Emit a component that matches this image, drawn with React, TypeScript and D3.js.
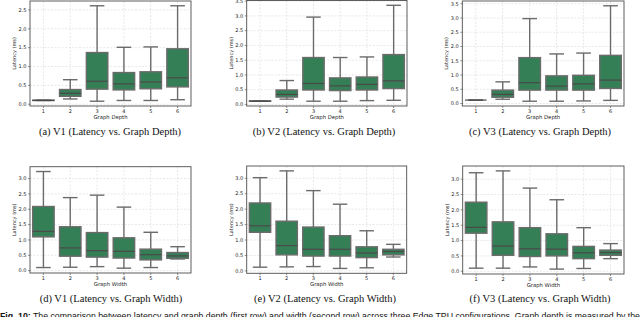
import React from "react";
import * as d3 from "d3";

const categories = ["1", "2", "3", "4", "5", "6"];
const yTicksDepthV1 = [0, 0.5, 1, 1.5, 2, 2.5];
const yTicksDepth = [0, 0.5, 1, 1.5, 2, 2.5, 3, 3.5];
const yTicksWidth = [0, 0.5, 1, 1.5, 2, 2.5, 3];

// [min, q1, median, q3, max]
const v1Depth = [
  [0.1, 0.1, 0.1, 0.11, 0.11],
  [0.14, 0.21, 0.29, 0.39, 0.65],
  [0.08, 0.4, 0.61, 1.37, 2.61],
  [0.1, 0.38, 0.54, 0.84, 1.51],
  [0.1, 0.41, 0.59, 0.86, 1.52],
  [0.12, 0.46, 0.7, 1.47, 2.61],
];
const v2Depth = [
  [0.11, 0.11, 0.11, 0.12, 0.12],
  [0.18, 0.25, 0.34, 0.49, 0.81],
  [0.11, 0.49, 0.71, 1.59, 2.96],
  [0.11, 0.47, 0.63, 0.9, 1.59],
  [0.13, 0.49, 0.68, 0.93, 1.61],
  [0.14, 0.54, 0.8, 1.69, 3.36],
];
const v3Depth = [
  [0.12, 0.12, 0.12, 0.12, 0.12],
  [0.15, 0.22, 0.32, 0.47, 0.76],
  [0.08, 0.47, 0.73, 1.61, 2.98],
  [0.08, 0.47, 0.61, 0.97, 1.74],
  [0.09, 0.47, 0.69, 0.99, 1.77],
  [0.11, 0.53, 0.82, 1.69, 3.43],
];
const v1Width = [
  [0.1, 1.1, 1.28, 2.09, 3.23],
  [0.11, 0.47, 0.74, 1.43, 2.38],
  [0.13, 0.44, 0.65, 1.24, 2.46],
  [0.08, 0.41, 0.63, 1.07, 2.07],
  [0.1, 0.35, 0.52, 0.7, 1.25],
  [0.38, 0.4, 0.48, 0.59, 0.78],
];
const v2Width = [
  [0.12, 1.25, 1.46, 2.2, 3.02],
  [0.13, 0.52, 0.82, 1.61, 3.24],
  [0.14, 0.48, 0.7, 1.42, 2.6],
  [0.08, 0.48, 0.7, 1.14, 2.16],
  [0.1, 0.43, 0.58, 0.78, 1.3],
  [0.45, 0.52, 0.63, 0.7, 0.86],
];
const v3Width = [
  [0.1, 1.24, 1.43, 2.25, 3.21],
  [0.1, 0.52, 0.82, 1.61, 3.27],
  [0.14, 0.48, 0.73, 1.42, 2.71],
  [0.07, 0.5, 0.72, 1.22, 2.33],
  [0.09, 0.41, 0.6, 0.81, 1.42],
  [0.41, 0.52, 0.61, 0.69, 0.9],
];

const captions = [
  "(a) V1 (Latency vs. Graph Depth)",
  "(b) V2 (Latency vs. Graph Depth)",
  "(c) V3 (Latency vs. Graph Depth)",
  "(d) V1 (Latency vs. Graph Width)",
  "(e) V2 (Latency vs. Graph Width)",
  "(f) V3 (Latency vs. Graph Width)",
];
const xLabels = ["Graph Depth", "Graph Depth", "Graph Depth", "Graph Width", "Graph Width", "Graph Width"];
const figCaptionBold = "Fig. 10:";
const figCaptionRest =
  " The comparison between latency and graph depth (first row) and width (second row) across three Edge TPU configurations. Graph depth is measured by the";

const FILL = "#357f57";
const LINE = "#6b6b6b";

type Frame = { left: number; right: number; top: number; bottom: number; capX: number; capY: number };

const frames: Frame[] = [
  { left: 30, right: 191, top: 1, bottom: 106, capX: 110, capY: 135 },
  { left: 246.7, right: 407, top: 0.5, bottom: 106, capX: 324, capY: 135 },
  { left: 462.3, right: 624, top: 1, bottom: 106, capX: 540, capY: 135 },
  { left: 30, right: 191, top: 166.7, bottom: 273, capX: 111, capY: 302 },
  { left: 246.7, right: 406.7, top: 166, bottom: 273.3, capX: 325, capY: 302 },
  { left: 462.7, right: 624, top: 166, bottom: 274, capX: 540, capY: 302 },
];

const datasets = [v1Depth, v2Depth, v3Depth, v1Width, v2Width, v3Width];
const tickSets = [yTicksDepthV1, yTicksDepth, yTicksDepth, yTicksWidth, yTicksWidth, yTicksWidth];

function Panel({ data, f, ticks, xLabel, caption }: { data: number[][]; f: Frame; ticks: number[]; xLabel: string; caption: string }) {
  const lo = d3.min(data, (d) => d[0]) as number;
  const hi = d3.max(data, (d) => d[4]) as number;
  const pad = (hi - lo) * 0.05;
  const y = d3.scaleLinear().domain([lo - pad, hi + pad]).range([f.bottom, f.top]);
  const x = d3.scaleBand().domain(categories).range([f.left, f.right]).paddingInner(0).paddingOuter(0);
  const bw = x.bandwidth() * 0.8;
  const cw = bw * 0.68;
  const midY = (f.top + f.bottom) / 2;
  return (
    <g>
      {/* grid */}
      {ticks.map((t) => (
        <line key={"gy" + t} x1={f.left} x2={f.right} y1={y(t)} y2={y(t)} stroke="#d9d9d9" strokeWidth={0.6} strokeDasharray="2,1.5" />
      ))}
      {categories.map((c) => {
        const cx = (x(c) as number) + x.bandwidth() / 2;
        return <line key={"gx" + c} x1={cx} x2={cx} y1={f.top} y2={f.bottom} stroke="#d9d9d9" strokeWidth={0.6} strokeDasharray="2,1.5" />;
      })}
      {/* boxes */}
      {data.map((d, i) => {
        const cx = (x(categories[i]) as number) + x.bandwidth() / 2;
        const [mn, q1, md, q3, mx] = d;
        return (
          <g key={"b" + i}>
            <line x1={cx} x2={cx} y1={y(q3)} y2={y(mx)} stroke={LINE} strokeWidth={1.4} />
            <line x1={cx} x2={cx} y1={y(q1)} y2={y(mn)} stroke={LINE} strokeWidth={1.4} />
            <line x1={cx - cw / 2} x2={cx + cw / 2} y1={y(mx)} y2={y(mx)} stroke={LINE} strokeWidth={1.4} />
            <line x1={cx - cw / 2} x2={cx + cw / 2} y1={y(mn)} y2={y(mn)} stroke={LINE} strokeWidth={1.4} />
            <rect x={cx - bw / 2} y={y(q3)} width={bw} height={Math.max(0, y(q1) - y(q3))} fill={FILL} stroke={LINE} strokeWidth={1.4} />
            <line x1={cx - bw / 2} x2={cx + bw / 2} y1={y(md)} y2={y(md)} stroke="#4a4a4a" strokeWidth={1.2} />
          </g>
        );
      })}
      {/* frame */}
      <rect x={f.left} y={f.top} width={f.right - f.left} height={f.bottom - f.top} fill="none" stroke="#4d4d4d" strokeWidth={0.9} />
      {/* y ticks */}
      {ticks.map((t) => (
        <g key={"yt" + t}>
          <line x1={f.left - 2} x2={f.left} y1={y(t)} y2={y(t)} stroke="#4d4d4d" strokeWidth={0.6} />
          <text x={f.left - 3.5} y={y(t)} dy="0.35em" textAnchor="end" fontSize={5} fontFamily="DejaVu Sans" fill="#222">
            {t.toFixed(1)}
          </text>
        </g>
      ))}
      {/* x ticks */}
      {categories.map((c) => {
        const cx = (x(c) as number) + x.bandwidth() / 2;
        return (
          <g key={"xt" + c}>
            <line x1={cx} x2={cx} y1={f.bottom} y2={f.bottom + 2} stroke="#4d4d4d" strokeWidth={0.6} />
            <text x={cx} y={f.bottom + 6.8} textAnchor="middle" fontSize={5} fontFamily="DejaVu Sans" fill="#222">
              {c}
            </text>
          </g>
        );
      })}
      <text x={(f.left + f.right) / 2} y={f.bottom + 12.5} textAnchor="middle" fontSize={5.3} fontFamily="DejaVu Sans" fill="#222">
        {xLabel}
      </text>
      <text transform={`translate(${f.left - 14},${midY}) rotate(-90)`} textAnchor="middle" fontSize={5} fontFamily="DejaVu Sans" fill="#222">
        Latency (ms)
      </text>
      <text x={f.capX} y={f.capY} textAnchor="middle" fontSize={10.5} fontFamily="Liberation Serif" fill="#111">
        {caption}
      </text>
    </g>
  );
}

export default function App() {
  return (
    <svg width={640} height={317} style={{ position: "absolute", left: 0, top: 0, background: "#fff" }}>
      <rect width={640} height={317} fill="#fff" />
      {datasets.map((d, i) => (
        <Panel key={i} data={d} f={frames[i]} ticks={tickSets[i]} xLabel={xLabels[i]} caption={captions[i]} />
      ))}
      <text x={0} y={319} fontSize={8.6} fontFamily="Liberation Sans" fill="#111" textLength={640} lengthAdjust="spacingAndGlyphs">
        <tspan fontWeight="bold">{figCaptionBold}</tspan>
        <tspan>{figCaptionRest}</tspan>
      </text>
    </svg>
  );
}
